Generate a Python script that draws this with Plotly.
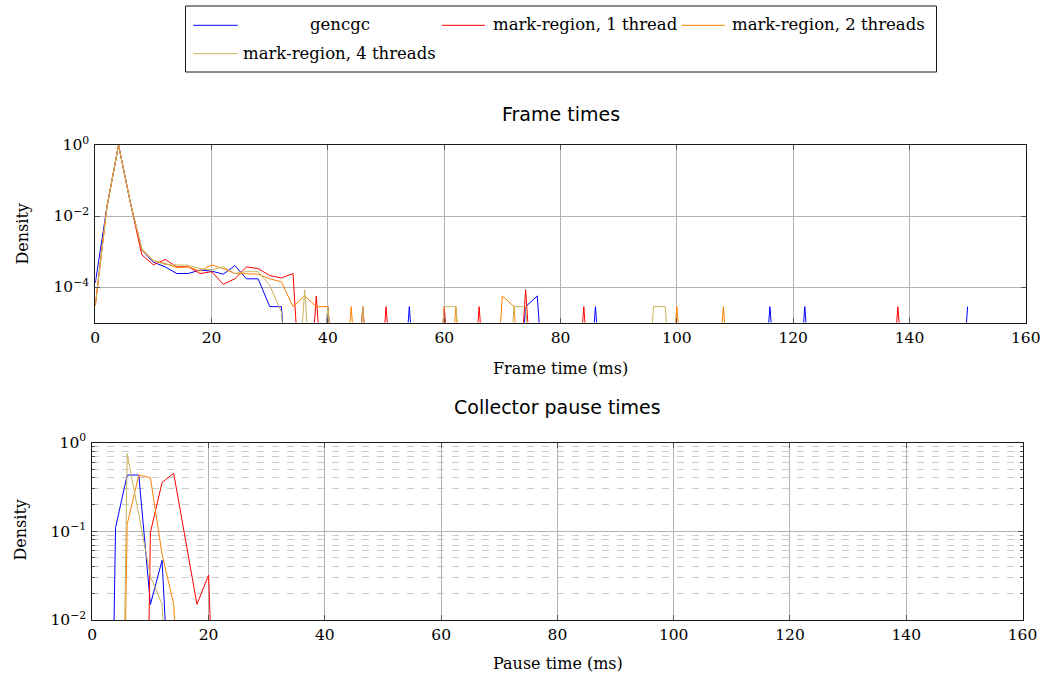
import plotly.graph_objects as go

# ---------------- data ----------------
# Frame-time histogram bins (ms)
frame_x = [0, 2, 4, 6, 8, 10, 12, 14, 16, 18,
           20, 22, 24, 26, 28, 30, 32, 34, 36, 38,
           40, 42, 44, 46, 48, 50, 52, 54, 56, 58,
           60, 62, 64, 66, 68, 70, 72, 74, 76, 78,
           80, 82, 84, 86, 88, 90, 92, 94, 96, 98,
           100, 102, 104, 106, 108, 110, 112, 114, 116, 118,
           120, 122, 124, 126, 128, 130, 132, 134, 136, 138,
           140, 142, 144, 146, 148, 150]

frame_gencgc = [1.3e-4, 1.8e-2, 1.0, 2.5e-2, 1.1e-3, 5.0e-4, 3.7e-4, 2.4e-4, 2.4e-4, 3.0e-4,
                2.8e-4, 2.3e-4, 4.0e-4, 1.7e-4, 1.7e-4, 2.8e-5, 2.8e-5, 0, 0, 0,
                2.8e-5, 0, 0, 0, 0, 0, 0, 2.8e-5, 0, 0,
                0, 0, 0, 0, 0, 0, 0, 2.8e-5, 5.6e-5, 0,
                0, 0, 0, 2.8e-5, 0, 0, 0, 0, 0, 0,
                0, 0, 0, 0, 0, 0, 0, 0, 2.8e-5, 0,
                0, 2.8e-5, 0, 0, 0, 0, 0, 0, 0, 0,
                0, 0, 0, 0, 0, 2.8e-5]

frame_mr1 = [3.0e-5, 1.8e-2, 1.0, 2.5e-2, 8.0e-4, 4.2e-4, 6.0e-4, 3.7e-4, 3.7e-4, 2.4e-4,
             2.7e-4, 1.2e-4, 1.7e-4, 3.7e-4, 3.3e-4, 2.1e-4, 1.8e-4, 2.4e-4, 0, 5.6e-5,
             0, 0, 0, 2.8e-5, 0, 2.8e-5, 0, 0, 0, 0,
             2.8e-5, 0, 0, 2.8e-5, 0, 0, 0, 8.4e-5, 0, 0,
             0, 0, 2.8e-5, 0, 0, 0, 0, 0, 0, 0,
             0, 0, 0, 0, 0, 0, 0, 0, 0, 0,
             0, 0, 0, 0, 0, 0, 0, 0, 0, 2.8e-5,
             0, 0, 0, 0, 0, 0]

frame_mr2 = [3.0e-5, 1.8e-2, 1.0, 2.5e-2, 1.1e-3, 5.5e-4, 4.6e-4, 3.5e-4, 3.7e-4, 2.8e-4,
             4.2e-4, 3.3e-4, 2.4e-4, 2.3e-4, 2.3e-4, 1.7e-4, 1.4e-4, 2.8e-5, 5.6e-5, 2.8e-5,
             2.8e-5, 0, 2.8e-5, 0, 0, 0, 0, 0, 0, 0,
             0, 2.8e-5, 0, 0, 0, 5.6e-5, 2.8e-5, 0, 0, 0,
             0, 0, 0, 0, 0, 0, 0, 0, 0, 0,
             2.8e-5, 0, 0, 0, 2.8e-5, 0, 0, 0, 0, 0,
             0, 0, 0, 0, 0, 0, 0, 0, 0, 0,
             0, 0, 0, 0, 0, 0]

frame_mr4 = [3.0e-5, 1.8e-2, 1.0, 2.5e-2, 1.2e-3, 5.7e-4, 4.3e-4, 4.1e-4, 4.1e-4, 3.3e-4,
             3.0e-4, 3.7e-4, 2.4e-4, 2.7e-4, 2.7e-4, 1.1e-4, 2.0e-5, 0, 8.4e-5, 0,
             2.8e-5, 0, 0, 2.8e-5, 0, 0, 0, 0, 0, 0,
             2.8e-5, 2.8e-5, 0, 0, 0, 0, 2.8e-5, 2.8e-5, 0, 0,
             0, 0, 0, 0, 0, 0, 0, 0, 2.8e-5, 2.8e-5,
             0, 0, 0, 0, 0, 0, 0, 0, 0, 0,
             0, 0, 0, 0, 0, 0, 0, 0, 0, 0,
             0, 0, 0, 0, 0, 0]

# Collector pause-time histogram bins (ms)
pause_x = [0, 2, 4, 6, 8, 10, 12, 14, 16, 18, 20, 22, 24]
pause_gencgc = [0, 0, 0.11, 0.43, 0.43, 0.015, 0.047, 0, 0, 0, 0, 0, 0]
pause_mr1 = [0, 0, 0, 0, 0, 0.097, 0.355, 0.45, 0.08, 0.015, 0.032, 0, 0]
pause_mr2 = [0, 0, 0, 0.12, 0.43, 0.40, 0.055, 0.015, 0, 0, 0, 0, 0]
pause_mr4 = [0, 0, 0, 0.75, 0.15, 0.031, 0.015, 0, 0, 0, 0, 0, 0]

series_names = ["gencgc", "mark-region, 1 thread", "mark-region, 2 threads", "mark-region, 4 threads"]
series_colors = ["#0000ff", "#ff0000", "#ff8000", "#c8b45c"]

x_ticks = [0, 20, 40, 60, 80, 100, 120, 140, 160]
frame_yticks = [1, 1e-2, 1e-4]
frame_yticktext = ["10<sup>0</sup>", "10<sup>−2</sup>", "10<sup>−4</sup>"]
pause_yticks = [1, 1e-1, 1e-2]
pause_yticktext = ["10<sup>0</sup>", "10<sup>−1</sup>", "10<sup>−2</sup>"]
pause_minor = [0.02, 0.03, 0.04, 0.05, 0.06, 0.07, 0.08, 0.09,
               0.2, 0.3, 0.4, 0.5, 0.6, 0.7, 0.8, 0.9]

# zero bins fall off the log axis; draw them far below the visible range
FLOOR = 1e-9

# ---------------- figure ----------------
W, H = 1043, 678


def px(p):
    return p / W


def py(p):
    return 1 - p / H


SERIF = "DejaVu Serif"
SANS = "DejaVu Sans"

fig = go.Figure()
frame_data = [frame_gencgc, frame_mr1, frame_mr2, frame_mr4]
pause_data = [pause_gencgc, pause_mr1, pause_mr2, pause_mr4]
for name, color, ys in zip(series_names, series_colors, frame_data):
    fig.add_trace(go.Scatter(x=frame_x, y=[v if v > 0 else FLOOR for v in ys],
                             mode="lines", name=name, line=dict(color=color, width=1),
                             xaxis="x", yaxis="y", showlegend=False))
for name, color, ys in zip(series_names, series_colors, pause_data):
    fig.add_trace(go.Scatter(x=pause_x, y=[v if v > 0 else FLOOR for v in ys],
                             mode="lines", name=name, line=dict(color=color, width=1),
                             xaxis="x2", yaxis="y2", showlegend=False))

axis_common = dict(
    showline=True, linecolor="#1a1a1a", linewidth=1, mirror="ticks",
    ticks="inside", ticklen=5, tickcolor="#555555", tickwidth=1,
    showgrid=True, gridcolor="#b3b3b3", gridwidth=1, zeroline=False,
    tickfont=dict(family=SERIF, size=15.5, color="black"),
    automargin=False,
)

fig.update_layout(
    width=W, height=H,
    margin=dict(l=0, r=0, t=0, b=0, pad=0),
    paper_bgcolor="white", plot_bgcolor="white",
    showlegend=False,
    xaxis=dict(domain=[px(95.3), px(1025.8)], anchor="y", range=[0, 160],
               tickmode="array", tickvals=x_ticks, ticklabelstandoff=1, **axis_common),
    yaxis=dict(domain=[py(322.5), py(145)], anchor="x", type="log", range=[-5, 0],
               tickmode="array", tickvals=frame_yticks, ticktext=frame_yticktext,
               ticklabelstandoff=2, **axis_common),
    xaxis2=dict(domain=[px(92.3), px(1022.5)], anchor="y2", range=[0, 160],
                tickmode="array", tickvals=x_ticks, ticklabelstandoff=0, **axis_common),
    yaxis2=dict(domain=[py(620), py(442.5)], anchor="x2", type="log", range=[-2, 0],
                tickmode="array", tickvals=pause_yticks, ticktext=pause_yticktext,
                ticklabelstandoff=2,
                minor=dict(tickmode="array", tickvals=pause_minor, ticks="inside", ticklen=3,
                           tickcolor="#555555", showgrid=True, gridcolor="#cccccc",
                           gridwidth=1, griddash="7px,8px"),
                **axis_common),
)

annotations = []
# subplot titles
annotations.append(dict(text="Frame times", x=px(560.5), y=py(114), xref="paper", yref="paper",
                        xanchor="center", yanchor="middle", showarrow=False,
                        font=dict(family=SANS, size=19, color="black")))
annotations.append(dict(text="Collector pause times", x=px(557.5), y=py(407), xref="paper", yref="paper",
                        xanchor="center", yanchor="middle", showarrow=False,
                        font=dict(family=SANS, size=19, color="black")))
# axis titles
annotations.append(dict(text="Frame time (ms)", x=px(560.5), y=py(369), xref="paper", yref="paper",
                        xanchor="center", yanchor="middle", showarrow=False,
                        font=dict(family=SERIF, size=16, color="black")))
annotations.append(dict(text="Pause time (ms)", x=px(557.5), y=py(663), xref="paper", yref="paper",
                        xanchor="center", yanchor="middle", showarrow=False,
                        font=dict(family=SERIF, size=16, color="black")))
annotations.append(dict(text="Density", x=px(21.5), y=py(234), xref="paper", yref="paper",
                        xanchor="center", yanchor="middle", showarrow=False, textangle=-90,
                        font=dict(family=SERIF, size=16, color="black")))
annotations.append(dict(text="Density", x=px(19.5), y=py(530), xref="paper", yref="paper",
                        xanchor="center", yanchor="middle", showarrow=False, textangle=-90,
                        font=dict(family=SERIF, size=16, color="black")))

# legend (custom, pgfplots-style box)
shapes = [dict(type="rect", xref="paper", yref="paper", x0=px(185.5), x1=px(936.5),
               y0=py(72), y1=py(6), line=dict(color="#1a1a1a", width=1), fillcolor="white",
               layer="above")]
legend_items = [
    # (line x0, line x1, row y, text x, text anchor)
    (193.3, 237.7, 25.3, 339.5, "center"),
    (441.7, 485.0, 25.3, 491.0, "left"),
    (681.7, 725.0, 25.3, 730.0, "left"),
    (193.3, 237.7, 53.7, 339.5, "center"),
]
for (lx0, lx1, ry, tx, anc), name, color in zip(legend_items, series_names, series_colors):
    shapes.append(dict(type="line", xref="paper", yref="paper", x0=px(lx0), x1=px(lx1),
                       y0=py(ry), y1=py(ry), line=dict(color=color, width=1), layer="above"))
    annotations.append(dict(text=name, x=px(tx), y=py(ry - 0.5), xref="paper", yref="paper",
                            xanchor=anc, yanchor="middle", showarrow=False,
                            font=dict(family=SERIF, size=16.5, color="black")))

fig.update_layout(annotations=annotations, shapes=shapes)

# remove the default 8px page margin so the figure fills the window exactly
fig.write_html("out.html", config={"displayModeBar": False},
               post_script="document.body.style.margin='0px';")
